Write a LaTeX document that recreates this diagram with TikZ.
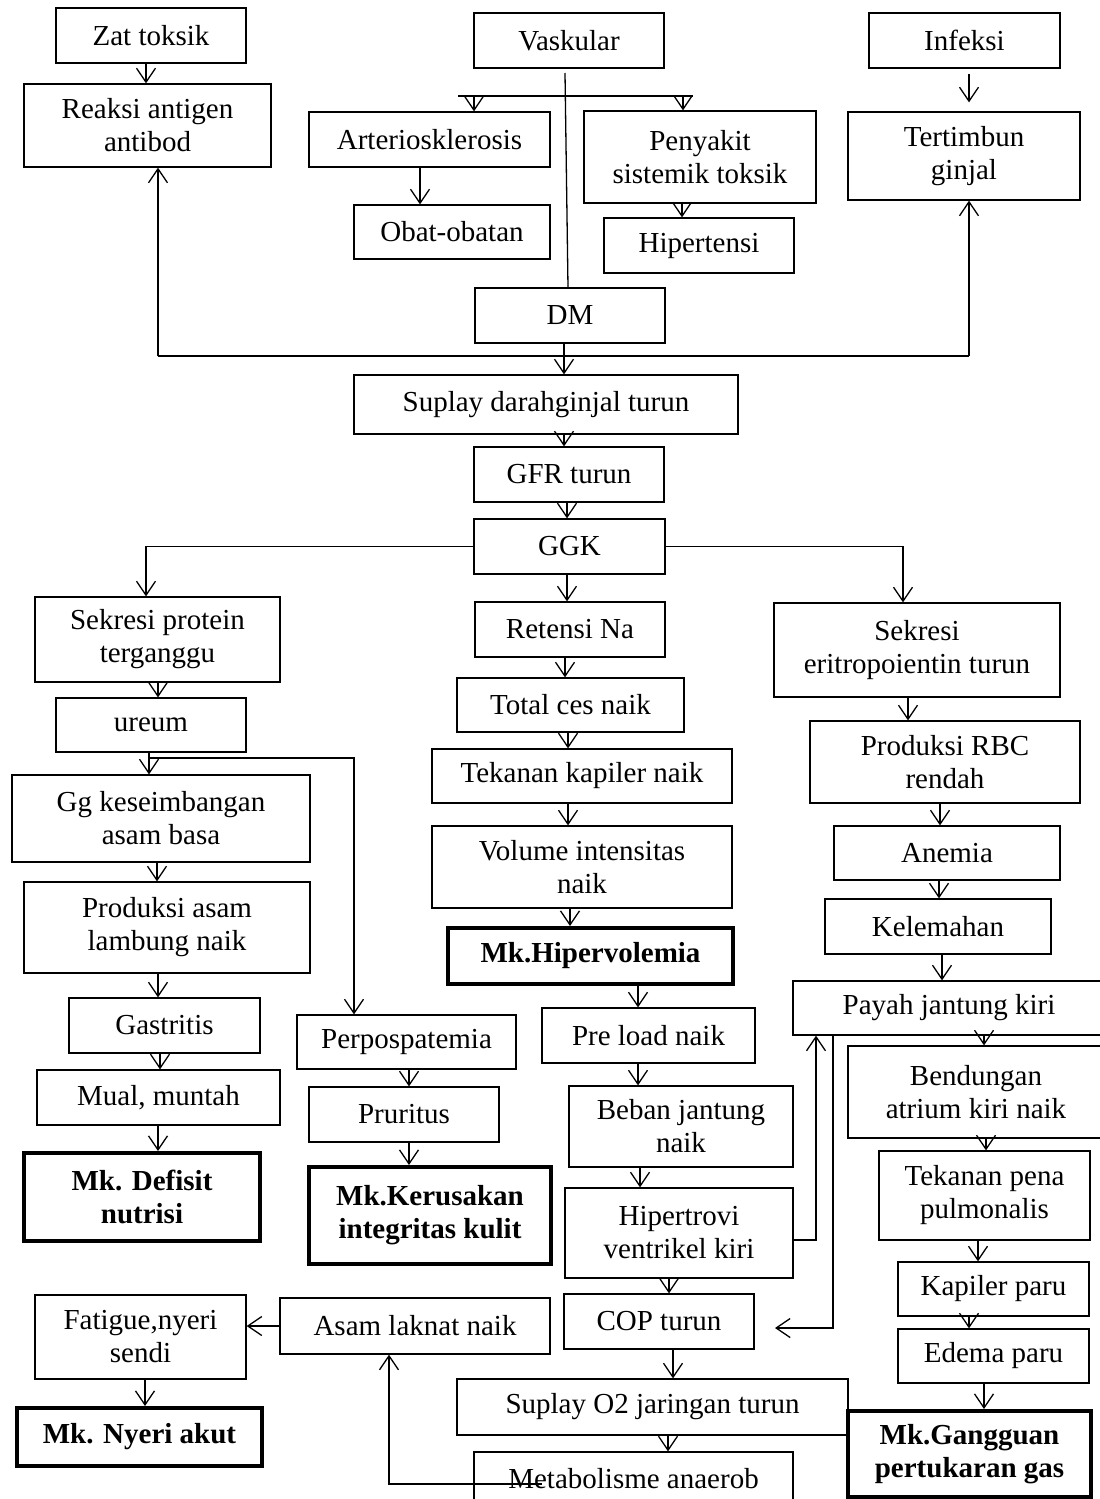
\documentclass[tikz,border=0pt]{standalone}
\usepackage{fontspec}
\setmainfont{Liberation Serif}
\usetikzlibrary{arrows.meta}
\tikzset{>={Straight Barb[length=7pt,width=9.5pt]},
  wd/.style={minimum width=#1*0.5pt},
  ht/.style={minimum height=#1*0.5pt},
  box/.style={draw,inner sep=0pt,align=center,font=\fontsize{14.5}{16.5}\selectfont},
  mk/.style={box,line width=2pt,font=\fontsize{14.5}{16.5}\selectfont\bfseries}}

\begin{document}
\begin{tikzpicture}[x=0.5pt,y=-0.5pt,line width=0.65pt]
\useasboundingbox (0,0) rectangle (1099,1499);
% top row
\node[box,wd=190,ht=55] (zat) at (151,35.5) {Zat toksik};
\node[box,wd=247,ht=83] (reaksi) at (147.5,125.5) {Reaksi antigen\\antibod};
\node[box,wd=190,ht=55] (vask) at (569,40.5) {Vaskular};
\node[box,wd=241,ht=55] (arter) at (429.5,139.5) {Arteriosklerosis};
\node[box,wd=196,ht=54] (obat) at (452,232) {Obat-obatan};
\node[box,wd=232,ht=92] (penyakit) at (700,157) {Penyakit\\sistemik toksik};
\node[box,wd=190,ht=55] (hipertensi) at (699,245.5) {Hipertensi};
\node[box,wd=191,ht=55] (infeksi) at (964.5,40.5) {Infeksi};
\node[box,wd=232,ht=88] (tertimbun) at (964,156) {Tertimbun\\ginjal};
\node[box,wd=190,ht=55] (dm) at (570,315.5) {DM};
% middle
\node[box,wd=384,ht=59] (suplay) at (546,404.5) {Suplay darahginjal turun};
\node[box,wd=190,ht=55] (gfr) at (569,474.5) {GFR turun};
\node[box,wd=191,ht=55] (ggk) at (569.5,546.5) {GGK};
\node[box,wd=190,ht=55] (retensi) at (570,629.5) {Retensi Na};
\node[box,wd=227,ht=54] (total) at (570.5,705) {Total ces naik};
\node[box,wd=300,ht=54] (tekkap) at (582,776) {Tekanan kapiler naik};
\node[box,wd=300,ht=82] (volume) at (582,867) {Volume intensitas\\naik};
\node[mk,wd=285,ht=56] (hipervol) at (590.5,956) {Mk.Hipervolemia};
\node[box,wd=213,ht=55] (preload) at (648.5,1035.5) {Pre load naik};
\node[box,wd=224,ht=81] (beban) at (681,1126.5) {Beban jantung\\naik};
\node[box,wd=228,ht=90] (hipertrovi) at (679,1233) {Hipertrovi\\ventrikel kiri};
\node[box,wd=190,ht=55] (cop) at (659,1321.5) {COP turun};
\node[box,wd=391,ht=56] (supo2) at (652.5,1407) {Suplay O2 jaringan turun};
\node[box,wd=319,ht=54] (metab) at (633.5,1479) {Metabolisme anaerob};
% left
\node[box,wd=245,ht=85] (sekprot) at (157.5,639.5) {Sekresi protein\\terganggu};
\node[box,wd=190,ht=54] (ureum) at (151,725) {ureum};
\node[box,wd=298,ht=87] (gg) at (161,818.5) {Gg keseimbangan\\asam basa};
\node[box,wd=286,ht=91] (prodasam) at (167,927.5) {Produksi asam\\lambung naik};
\node[box,wd=191,ht=55] (gastritis) at (164.5,1025.5) {Gastritis};
\node[box,wd=243,ht=55] (mual) at (158.5,1097.5) {Mual, muntah};
\node[mk,wd=236,ht=88] (defisit) at (142,1197) {Mk. Defisit\\nutrisi};
\node[box,wd=219,ht=54] (perpos) at (406.5,1042) {Perpospatemia};
\node[box,wd=190,ht=55] (pruritus) at (404,1114.5) {Pruritus};
\node[mk,wd=242,ht=97] (kerusakan) at (430,1215.5) {Mk.Kerusakan\\integritas kulit};
\node[box,wd=211,ht=84] (fatigue) at (140.5,1337) {Fatigue,nyeri\\sendi};
\node[box,wd=270,ht=56] (asam) at (415,1326) {Asam laknat naik};
\node[mk,wd=245,ht=58] (nyeri) at (139.5,1437) {Mk. Nyeri akut};
% right
\node[box,wd=286,ht=94] (sekeri) at (917,650) {Sekresi\\eritropoientin turun};
\node[box,wd=270,ht=82] (rbc) at (945,762) {Produksi RBC\\rendah};
\node[box,wd=226,ht=54] (anemia) at (947,853) {Anemia};
\node[box,wd=226,ht=55] (kelemahan) at (938,926.5) {Kelemahan};
\node[box,wd=312,ht=54] (payah) at (949,1008) {Payah jantung kiri};
\node[box,wd=256,ht=92] (bendungan) at (976,1092) {Bendungan\\atrium kiri naik};
\node[box,wd=211,ht=89] (tekpena) at (984.5,1195.5) {Tekanan pena\\pulmonalis};
\node[box,wd=191,ht=54] (kapparu) at (993.5,1289) {Kapiler paru};
\node[box,wd=191,ht=54] (edema) at (993.5,1356) {Edema paru};
\node[mk,wd=243,ht=86] (gangguan) at (969.5,1454) {Mk.Gangguan\\pertukaran gas};

% vaskular branches
\coordinate (v0) at (565,73);
\coordinate (vl) at (458,96);
\coordinate (vr) at (693,96);
\draw (v0) -- (568,0 |- dm.north);
\draw (vl) -- (vr);
\draw[->] (474,0 |- vl) -- (474,0 |- arter.north);
\draw[->] (683,0 |- vl) -- (683,0 |- penyakit.north);
\draw[->] (420,0 |- arter.south) -- (420,0 |- obat.north);
\draw[->] (682,0 |- penyakit.south) -- (682,0 |- hipertensi.north);
\draw[->] (146,0 |- zat.south) -- (146,0 |- reaksi.north);
\draw[->,shorten <=2.5pt,shorten >=4.5pt] (969,0 |- infeksi.south) -- (969,0 |- tertimbun.north);
% DM
\coordinate (jl) at (158,356);
\coordinate (jr) at (969,356);
\draw (jl) -- (jr);
\draw[->] (jl) -- (jl |- reaksi.south);
\draw[->] (jr) -- (jr |- tertimbun.south);
\draw[->] (564,0 |- dm.south) -- (564,0 |- suplay.north);
\draw[->] (564,0 |- suplay.south) -- (564,0 |- gfr.north);
\draw[->] (567,0 |- gfr.south) -- (567,0 |- ggk.north);
% GGK
\draw[->] (ggk.west) -| (146,0 |- sekprot.north);
\draw[->] (ggk.east) -| (903,0 |- sekeri.north);
\draw[->] (567,0 |- ggk.south) -- (567,0 |- retensi.north);
\draw[->] (565,0 |- retensi.south) -- (565,0 |- total.north);
\draw[->] (568,0 |- total.south) -- (568,0 |- tekkap.north);
\draw[->] (568,0 |- tekkap.south) -- (568,0 |- volume.north);
\draw[->] (570,0 |- volume.south) -- (570,0 |- hipervol.north);
\draw[->] (638,0 |- hipervol.south) -- (638,0 |- preload.north);
\draw[->] (638,0 |- preload.south) -- (638,0 |- beban.north);
\draw[->] (640,0 |- beban.south) -- (640,0 |- hipertrovi.north);
\draw[->] (669,0 |- hipertrovi.south) -- (669,0 |- cop.north);
\draw[->] (673,0 |- cop.south) -- (673,0 |- supo2.north);
\draw[->] (668,0 |- supo2.south) -- (668,0 |- metab.north);
% left column
\draw[->] (158,0 |- sekprot.south) -- (158,0 |- ureum.north);
\draw[->] (149,0 |- ureum.south) -- (149,0 |- gg.north);
\coordinate (ub) at (149,758);
\draw[->] (ub) -| (354,0 |- perpos.north);
\draw[->] (157,0 |- gg.south) -- (157,0 |- prodasam.north);
\draw[->] (158,0 |- prodasam.south) -- (158,0 |- gastritis.north);
\draw[->] (160,0 |- gastritis.south) -- (160,0 |- mual.north);
\draw[->] (158,0 |- mual.south) -- (158,0 |- defisit.north);
\draw[->] (409,0 |- perpos.south) -- (409,0 |- pruritus.north);
\draw[->] (409,0 |- pruritus.south) -- (409,0 |- kerusakan.north);
% right column
\draw[->] (908,0 |- sekeri.south) -- (908,0 |- rbc.north);
\draw[->] (940,0 |- rbc.south) -- (940,0 |- anemia.north);
\draw[->] (939,0 |- anemia.south) -- (939,0 |- kelemahan.north);
\draw[->] (942,0 |- kelemahan.south) -- (942,0 |- payah.north);
\draw[->] (984,0 |- payah.south) -- (984,0 |- bendungan.north);
\draw[->] (986,0 |- bendungan.south) -- (986,0 |- tekpena.north);
\draw[->] (978,0 |- tekpena.south) -- (978,0 |- kapparu.north);
\draw[->] (969,0 |- kapparu.south) -- (969,0 |- edema.north);
\draw[->] (984,0 |- edema.south) -- (984,0 |- gangguan.north);
% loops to payah and cop
\draw[->] ([yshift=-3.5pt]hipertrovi.east) -| (816,0 |- payah.south);
\coordinate (copin) at (775,1328);
\draw[->] (833,0 |- payah.south) |- (copin);
% bottom
\coordinate (mb) at (542,1484);
\draw[->] (mb) -| (389,0 |- asam.south);
\draw[->] (asam.west) -- (fatigue.east |- asam.west);
\draw[->] (145,0 |- fatigue.south) -- (145,0 |- nyeri.north);
\end{tikzpicture}
\end{document}
